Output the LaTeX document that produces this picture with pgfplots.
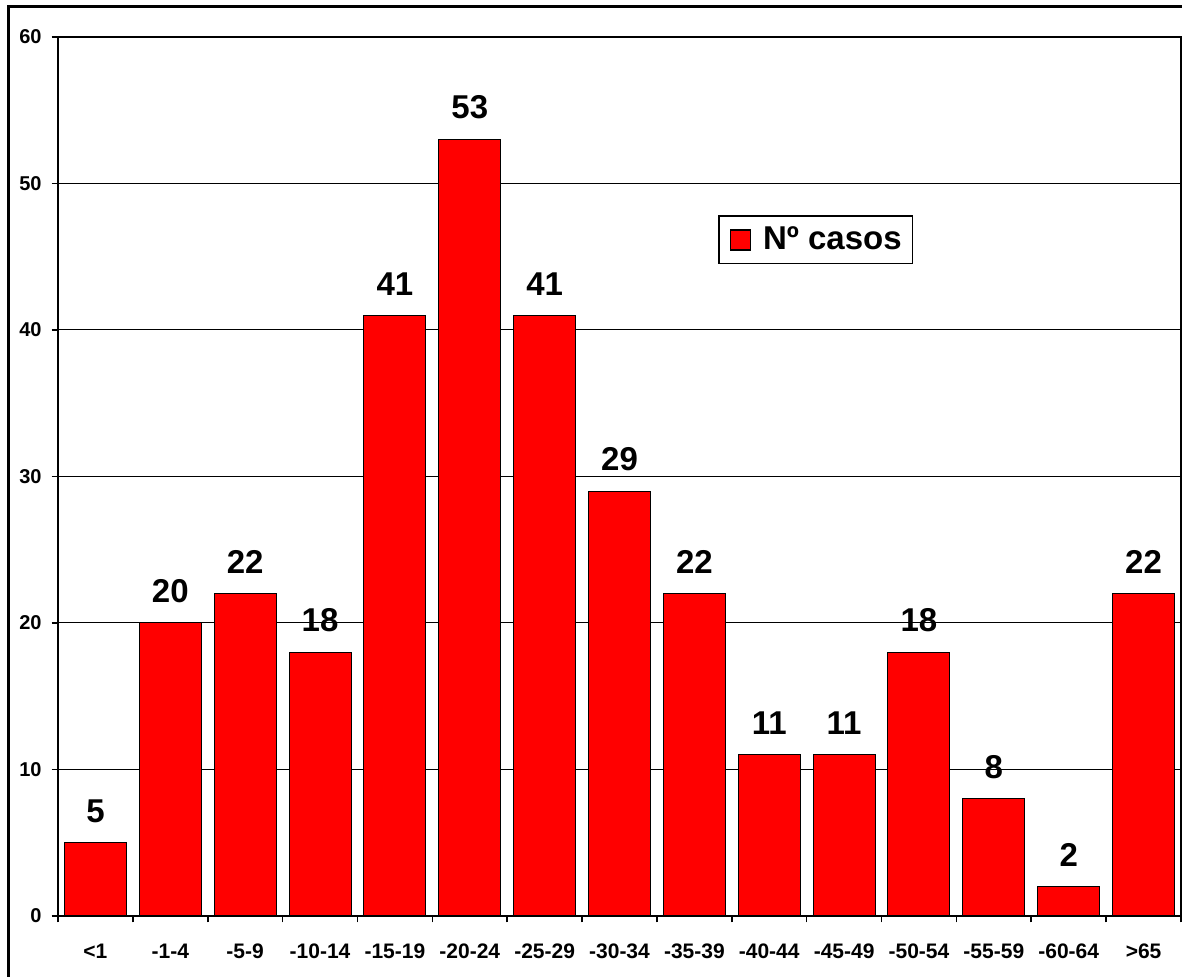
\documentclass[border=0pt]{standalone}
\usepackage{fontspec}
\setmainfont{Liberation Sans}
\usepackage{pgfplots}
\pgfplotsset{compat=1.18}
\begin{document}
\begin{tikzpicture}
\useasboundingbox (0,0) rectangle (591pt,488.5pt);
% outer chart frame
\draw[line width=1.5pt] (4pt,-10pt) -- (4pt,485pt) -- (600pt,485pt);
\begin{axis}[
  at={(29pt,30.5pt)}, anchor=south west,
  width=561.5pt, height=439.5pt, scale only axis,
  xmin=-0.5, xmax=14.5, ymin=0, ymax=60,
  ytick={0,10,...,60},
  ymajorgrids, grid style={black, line width=0.5pt},
  axis line style={line width=1pt},
  xtick={-0.5,0.5,...,14.5},
  x tick label as interval,
  xticklabels={<1,-1-4,-5-9,-10-14,-15-19,-20-24,-25-29,-30-34,-35-39,-40-44,-45-49,-50-54,-55-59,-60-64,>65},
  tick pos=left,
  tick align=outside, major tick length=3.2pt,
  tick style={black, line width=0.8pt},
  xticklabel style={font=\bfseries\fontsize{10.5}{12}\selectfont,
    text height=1.6ex, text depth=0.3ex, yshift=-6pt},
  yticklabel style={font=\bfseries\fontsize{10}{12}\selectfont, xshift=-1.5pt},
  /pgf/number format/assume math mode=true,
  ybar, bar width=31pt,
  nodes near coords,
  nodes near coords style={font=\bfseries\fontsize{16.5}{18}\selectfont, yshift=6.5pt},
  legend style={at={(rel axis cs:0.588,0.797)}, anchor=north west,
    draw=black, line width=0.6pt,
    font=\bfseries\fontsize{16.5}{18}\selectfont,
    inner xsep=5.5pt, inner ysep=3.5pt,
    nodes={inner xsep=0pt},
    /tikz/every odd column/.append style={column sep=6pt}},
  legend image code/.code={\draw[fill=red, draw=black, line width=0.6pt] (0pt,-5pt) rectangle (10pt,5pt);},
]
\addplot[fill=red, draw=black, line width=0.5pt] coordinates {
  (0,5) (1,20) (2,22) (3,18) (4,41) (5,53) (6,41) (7,29)
  (8,22) (9,11) (10,11) (11,18) (12,8) (13,2) (14,22)
};
\addlegendentry{Nº casos}
\end{axis}
\end{tikzpicture}
\end{document}
